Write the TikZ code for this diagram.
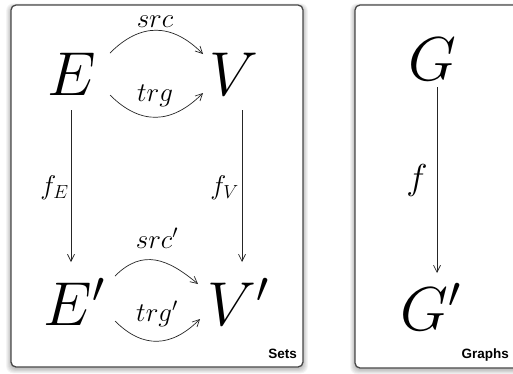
\RequirePackage{fix-cm}
\documentclass[tikz,border=0pt]{standalone}
\usepackage{fontspec}
\setsansfont{Liberation Sans}
\usetikzlibrary{arrows.meta}
\begin{document}
\begin{tikzpicture}[x=1pt,y=-1pt,
  big/.style={inner sep=0pt, anchor=base, font=\fontsize{62}{62}\selectfont},
  lab/.style={inner sep=0pt, anchor=base, font=\fontsize{27}{27}\selectfont},
  flab/.style={inner sep=0pt, anchor=base east, font=\fontsize{27}{27}\selectfont},
  arr/.style={line width=0.7pt, draw=black!85, -{Straight Barb[length=7pt,width=7pt]}},
  panel/.style={draw=black!72, line width=1.3pt, rounded corners=5pt, fill=white},
  shade/.style={fill=black, opacity=0.045, rounded corners=7pt},
  tag/.style={inner sep=0pt, anchor=base east, font=\sffamily\bfseries\fontsize{13.5}{13.5}\selectfont}]
\useasboundingbox (0,0) rectangle (513,373);
\clip (0,0) rectangle (513,373);
% shadows
\foreach \i in {1,...,6}{
  \fill[shade] (11-\i*0.8, 5-\i*0.6+2) rectangle (303+\i*0.8, 367+\i*0.8+1.5);
  \fill[shade] (355-\i*0.8, 5-\i*0.6+2) rectangle (530+\i*0.8, 368+\i*0.8+1.5);
}
% panels
\draw[panel] (11,5) rectangle (303,367);
\draw[panel] (355,5) rectangle (530,368);
\node[tag] (sets) at (297,358) {Sets};
\node[tag] (graphs) at (509,358) {Graphs};
% left diagram
\node[big] (E) at (72,95) {$E$};
\node[big] (V) at (234,95) {$V$};
\node[big] (E2) at (74,325) {$E'$};
\node[big] (V2) at (238,325) {$V'$};
\node[lab] (src) at (155,27) {$src$};
\node[lab] (trg) at (155,101) {$trg$};
\node[lab] (src2) at (157,248) {$src'$};
\node[lab] (trg2) at (157,321) {$trg'$};
\node[flab] (fE) at (69,194) {$f_E$};
\node[flab] (fV) at (239,194) {$f_V$};
\draw[arr] ([shift={(38,-42)}]E.base) to[out=45,in=135,looseness=1.2] ([shift={(-31,-41)}]V.base);
\draw[arr] ([shift={(38,0)}]E.base) to[out=-45,in=-135,looseness=1.2] ([shift={(-31,-2)}]V.base);
\draw[arr] ([shift={(41,-49)}]E2.base) to[out=45,in=140,looseness=1.2] ([shift={(-40,-41)}]V2.base);
\draw[arr] ([shift={(41,-4)}]E2.base) to[out=-45,in=-135,looseness=1.2] ([shift={(-38,-6)}]V2.base);
\draw[arr] ([shift={(-1,15)}]E.base) -- ([shift={(-3,-63)}]E2.base);
\draw[arr] ([shift={(8,15)}]V.base) -- ([shift={(4,-63)}]V2.base);
% right diagram
\node[big] (G) at (432,80) {$G$};
\node[big] (G2) at (431,330) {$G'$};
\node[inner sep=0pt, anchor=base, font=\fontsize{36}{36}\selectfont] (f) at (417,189) {$f$};
\draw[arr] ([shift={(5,7)}]G.base) -- ([shift={(6,-57)}]G2.base);
\end{tikzpicture}
\end{document}
